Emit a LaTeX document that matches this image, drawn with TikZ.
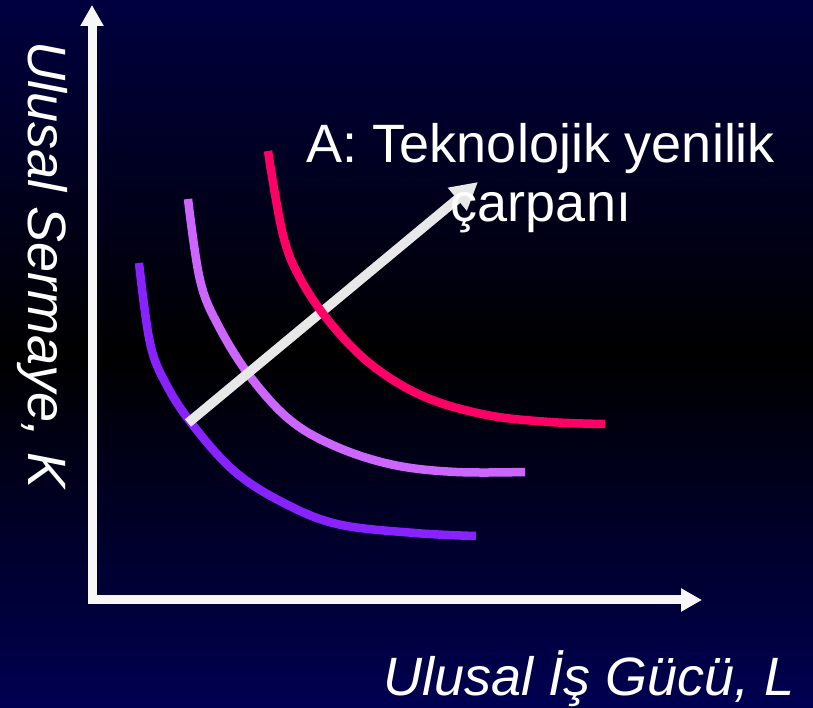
\documentclass[tikz,border=0pt]{standalone}
\usepackage{fontspec}
\setmainfont{Liberation Sans}
\usepackage{xcolor}
\usepackage{tikz}
\usetikzlibrary{arrows.meta}
\definecolor{navytop}{RGB}{0,0,64}
\definecolor{navybottom}{RGB}{0,0,82}
\definecolor{curvepurple}{RGB}{136,34,255}
\definecolor{curvelilac}{RGB}{204,102,255}
\definecolor{curvepink}{RGB}{255,0,102}
\definecolor{arrowgray}{RGB}{232,232,232}
\tikzset{
  axis/.style={draw=white!97!black,line width=9pt,line join=miter,{Triangle[length=21pt,width=22pt]}-{Triangle[length=21pt,width=22pt]}},
  isoquant/.style={line width=8.5pt},
  shift arrow/.style={draw=arrowgray,line width=9.5pt,-{Triangle[length=27pt,width=28pt]}},
  label/.style={text=white,inner sep=0pt,font=\fontsize{54}{59}\selectfont}
}

\begin{document}
\begin{tikzpicture}[x=1pt,y=1pt]

  % background
  \shade[top color=navytop,bottom color=navybottom,middle color=black] (0,0) rectangle (813,708);
  \useasboundingbox (0,0) rectangle (813,708);

  % axes
  \coordinate (O) at (92,108);
  \coordinate (ytip) at (92,703);
  \coordinate (xtip) at (702,108);
  \draw[axis] (ytip) -- (O) -- (xtip);

  \node[label,font=\fontsize{54}{59}\selectfont\itshape,rotate=-90,anchor=base west] (ylab) at (28,667) {Ulusal Sermaye, K};
  \node[label,font=\fontsize{54}{59}\selectfont\itshape,anchor=base west] (xlab) at (383,12) {Ulusal İş Gücü, L};

  % isoquants
  \draw[isoquant,curvepurple] plot[smooth,tension=0.6] coordinates {(139,445) (150,365) (166,324) (192,284) (233,238) (280,207) (337,184) (415,175) (476,172)};
  \draw[isoquant,curvelilac] plot[smooth,tension=0.6] coordinates {(188,509) (200,428) (218,383) (249,333) (290,288) (337,261) (394,243) (456,236) (525,236)};

  \coordinate (tail) at (188,285);
  \coordinate (head) at (478,526);
  \draw[shift arrow] (tail) -- (head);

  \draw[isoquant,curvepink] plot[smooth,tension=0.6] coordinates {(268,557) (283,473) (301,428) (332,383) (373,342) (425,311) (487,293) (550,286) (605,284)};

  \node[label,align=center,anchor=base] (tech) at (541,486) {A: Teknolojik yenilik\\çarpanı};

\end{tikzpicture}
\end{document}
